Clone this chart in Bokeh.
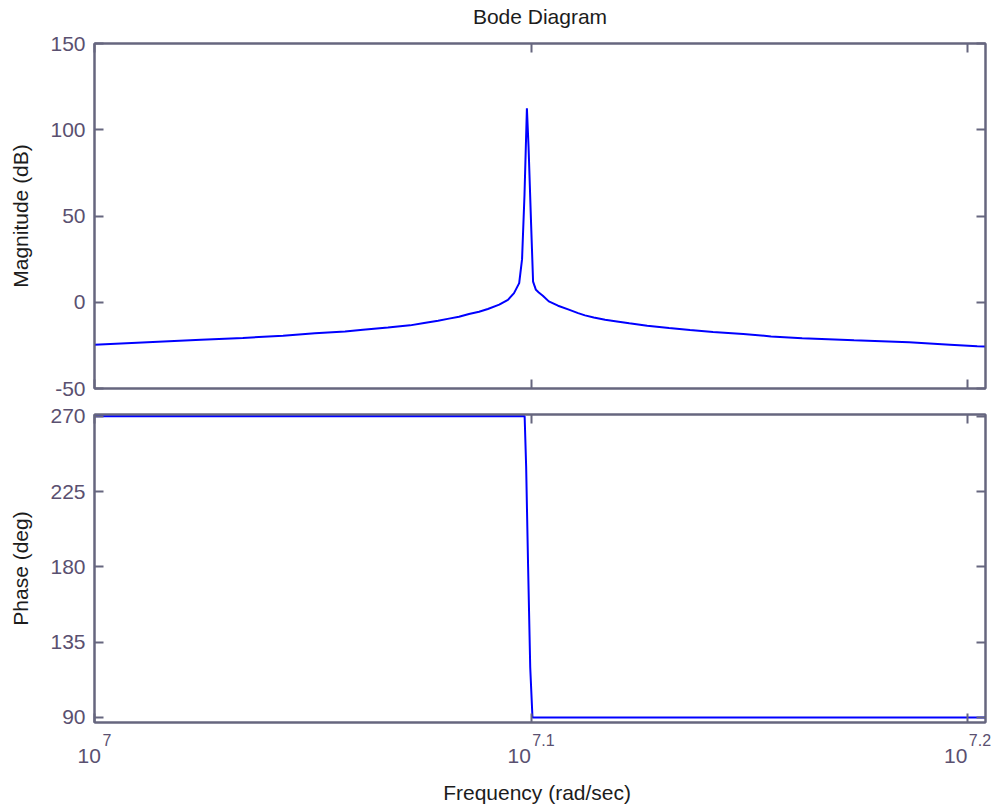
import math
from bokeh.plotting import figure
from bokeh.layouts import column
from bokeh.models import (Range1d, FixedTicker, LogAxis, LinearAxis,
                          CustomJSTickFormatter)
from bokeh.core.properties import value
from bokeh.embed import file_html
from bokeh.resources import INLINE

# ---------------- data (frequency in units of 1e7 rad/sec) ----------------
FREQ_UNIT = 1e7
mag_freq = [1.0000, 1.0313, 1.0578, 1.0814, 1.1046, 1.1233, 1.1413, 1.1521, 1.1674,
            1.1811, 1.1899, 1.1987, 1.2056, 1.2120, 1.2184, 1.2249, 1.2306, 1.2380,
            1.2437, 1.2477, 1.2511, 1.2530, 1.2546, 1.2562, 1.2573, 1.2590, 1.2603,
            1.2622, 1.2641, 1.2668, 1.2708, 1.2770, 1.2843, 1.2906, 1.2953, 1.3013,
            1.3091, 1.3173, 1.3259, 1.3385, 1.3540, 1.3691, 1.3858, 1.4081, 1.4289,
            1.4525, 1.4928, 1.5368, 1.5703, 1.5930, 1.6000]
mag_db = [-24.6, -23.0, -21.7, -20.7, -19.4, -18.0, -16.9, -15.9, -14.6,
          -13.4, -12.0, -10.7, -9.5, -8.4, -6.8, -5.5, -3.9, -1.4,
          1.4, 5.3, 11.1, 25.0, 62.0, 112.4, 90.0, 45.0, 12.0,
          7.2, 5.7, 3.8, 0.5, -2.0, -4.3, -6.3, -7.6, -8.8,
          -10.1, -11.1, -12.2, -13.6, -14.9, -16.1, -17.2, -18.4, -19.8,
          -20.9, -22.1, -23.2, -24.6, -25.5, -25.7]
phase_freq = [1.0000, 1.2547, 1.2557, 1.2570, 1.2584, 1.2599, 1.6000]
phase_deg = [270, 270, 240, 180, 120, 90, 90]

x_limits = [1.0, 1.6]
x_tick_exps = [7.0, 7.1, 7.2]
x_tick_exp_labels = ["7", "7.1", "7.2"]
mag_limits = [-50, 150]
mag_ticks = [-50, 0, 50, 100, 150]
phase_limits = [87, 271]
phase_ticks = [90, 135, 180, 225, 270]

title_text = "Bode Diagram"
mag_label = "Magnitude (dB)"
phase_label = "Phase (deg)"
x_label = "Frequency  (rad/sec)"

# ---------------- style / layout ----------------
FONT = "Liberation Sans"
AXIS_COLOR = "#66667f"
TICK_TEXT = "#5a5070"
LABEL_TEXT = "#1c1c1c"
LINE_COLOR = "#0000ff"
FS = "21px"
FS_SUP = "16px"
W = 1000
FRAME_LEFT = 94
FRAME_RIGHT = 985

x_range = Range1d(x_limits[0] * FREQ_UNIT, x_limits[1] * FREQ_UNIT)
x_ticks = [10 ** e for e in x_tick_exps]

num_fmt = CustomJSTickFormatter(code="return tick.toFixed(0)")


def style_axis(ax, ticks, show_labels):
    ax.ticker = FixedTicker(ticks=ticks, minor_ticks=[])
    ax.axis_line_color = AXIS_COLOR
    ax.axis_line_width = 2
    ax.major_tick_line_color = AXIS_COLOR
    ax.major_tick_line_width = 2
    ax.major_tick_in = 9
    ax.major_tick_out = 0
    ax.minor_tick_line_color = None
    if show_labels:
        ax.formatter = num_fmt
        ax.major_label_text_font = FONT
        ax.major_label_text_font_size = FS
        ax.major_label_text_color = TICK_TEXT
        ax.major_label_standoff = 9
    else:
        ax.formatter = CustomJSTickFormatter(code="return ''")
        ax.major_label_text_font_size = "0px"
        ax.major_label_standoff = 0


def make_fig(height, y_lim, y_ticks, ylabel, top, bottom):
    p = figure(width=W, height=height, x_axis_type="log", x_range=x_range,
               y_range=Range1d(y_lim[0], y_lim[1]), output_backend="svg",
               toolbar_location=None, min_border_left=FRAME_LEFT,
               min_border_right=W - FRAME_RIGHT,
               min_border_top=top, min_border_bottom=bottom)
    p.xgrid.visible = False
    p.ygrid.visible = False
    p.outline_line_color = AXIS_COLOR
    p.outline_line_width = 2
    p.background_fill_color = "white"
    p.border_fill_color = "white"
    style_axis(p.xaxis[0], x_ticks, False)
    style_axis(p.yaxis[0], y_ticks, True)
    p.yaxis[0].axis_label = ylabel
    p.yaxis[0].axis_label_text_font = FONT
    p.yaxis[0].axis_label_text_font_size = FS
    p.yaxis[0].axis_label_text_font_style = "normal"
    p.yaxis[0].axis_label_text_color = LABEL_TEXT
    p.yaxis[0].axis_label_standoff = 15
    ax_top = LogAxis()
    style_axis(ax_top, x_ticks, False)
    p.add_layout(ax_top, "above")
    ax_right = LinearAxis()
    style_axis(ax_right, y_ticks, False)
    p.add_layout(ax_right, "right")
    return p


# x mapping of a full-width text strip that matches the panels' frames
px_per_decade = (FRAME_RIGHT - FRAME_LEFT) / (math.log10(x_range.end) - math.log10(x_range.start))
x_mid = 10 ** ((math.log10(x_range.start) + math.log10(x_range.end)) / 2)


def make_strip(height):
    p = figure(width=W, height=height, x_axis_type="log",
               x_range=Range1d(x_range.start * 10 ** (-FRAME_LEFT / px_per_decade),
                               x_range.end * 10 ** ((W - FRAME_RIGHT) / px_per_decade)),
               y_range=Range1d(height, 0), output_backend="svg", toolbar_location=None,
               min_border=0, min_border_left=0, min_border_right=0,
               min_border_top=0, min_border_bottom=0,
               x_axis_location=None, y_axis_location=None)
    p.frame_align = False
    p.outline_line_color = None
    p.xgrid.visible = False
    p.ygrid.visible = False
    p.background_fill_color = "white"
    p.border_fill_color = "white"
    return p


# --- title strip ---
p0 = make_strip(28)
p0.text(x=[x_mid], y=[16], text=[title_text], text_align="center",
        text_baseline="alphabetic", text_font=value(FONT),
        text_font_size=value(FS), text_color=LABEL_TEXT)

# --- magnitude panel ---
p1 = make_fig(372, mag_limits, mag_ticks, mag_label, 15, 12)
p1.line([f * FREQ_UNIT for f in mag_freq], mag_db, line_color=LINE_COLOR, line_width=2)

# --- phase panel ---
p2 = make_fig(330, phase_limits, phase_ticks, phase_label, 14, 8)
p2.line([f * FREQ_UNIT for f in phase_freq], phase_deg, line_color=LINE_COLOR, line_width=2)

# --- strip below: x tick labels (10 with exponent) and x axis label ---
p3 = make_strip(80)
w10 = 2 * 0.556 * 21
base_offsets, exp_offsets = [], []
for s in x_tick_exp_labels:
    wexp = sum((0.278 if c == "." else 0.556) * 16 for c in s)
    total = w10 + 1.5 + wexp
    base_offsets.append(-total / 2 + w10)
    exp_offsets.append(-total / 2 + w10 + 1.5)

p3.text(x=x_ticks, y=[25] * len(x_ticks), text=["10"] * len(x_ticks),
        x_offset=base_offsets, text_align="right", text_baseline="alphabetic",
        text_font=value(FONT), text_font_size=value(FS), text_color=TICK_TEXT)
p3.text(x=x_ticks, y=[9] * len(x_ticks), text=x_tick_exp_labels,
        x_offset=exp_offsets, text_align="left", text_baseline="alphabetic",
        text_font=value(FONT), text_font_size=value(FS_SUP), text_color=TICK_TEXT)
p3.text(x=[x_mid], y=[62], text=[x_label], text_align="center",
        text_baseline="alphabetic", text_font=value(FONT),
        text_font_size=value(FS), text_color=LABEL_TEXT)

layout = column(p0, p1, p2, p3, spacing=0)
open("out.html", "w").write(file_html(layout, INLINE))
